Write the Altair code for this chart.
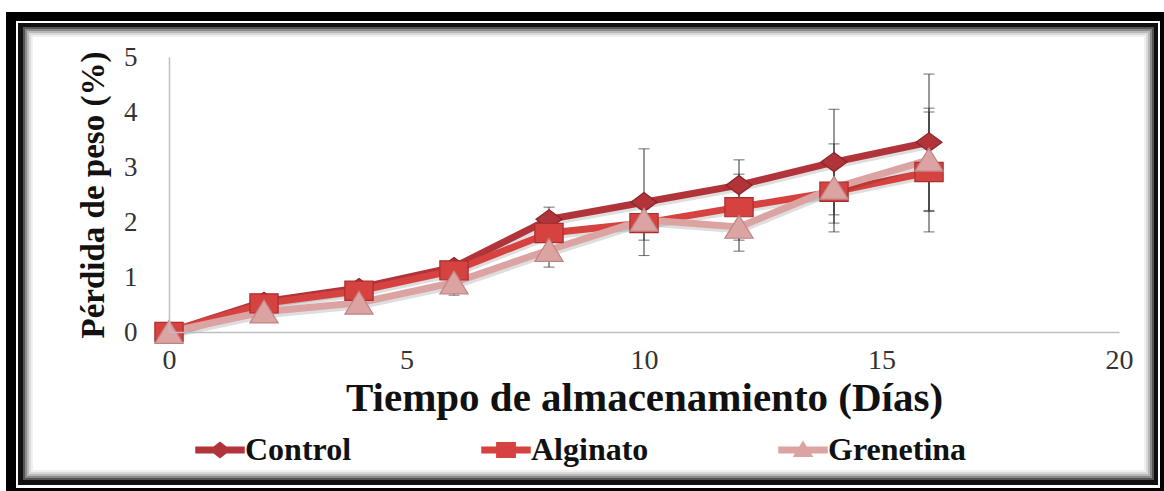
import altair as alt
import pandas as pd

# Días de almacenamiento y pérdida de peso (%) por tratamiento
dias = [0, 2, 4, 6, 8, 10, 12, 14, 16]
series = ["Control", "Alginato", "Grenetina"]
control = [0.0, 0.55, 0.80, 1.18, 2.05, 2.36, 2.67, 3.09, 3.45]
alginato = [0.0, 0.52, 0.75, 1.12, 1.80, 1.98, 2.27, 2.55, 2.91]
grenetina = [0.0, 0.37, 0.53, 0.90, 1.49, 2.04, 1.91, 2.62, 3.13]
# desviación estándar
control_de = [0.0, 0.05, 0.05, 0.08, 0.22, 0.97, 0.46, 0.96, 1.24]
alginato_de = [0.0, 0.05, 0.05, 0.06, 0.10, 0.31, 0.60, 0.57, 1.09]
grenetina_de = [0.0, 0.05, 0.05, 0.23, 0.31, 0.20, 0.44, 0.80, 0.94]
x_ticks = [0, 5, 10, 15, 20]
y_ticks = [0, 1, 2, 3, 4, 5]

colores = ["#B0343A", "#D5423F", "#DCA3A3"]
bordes = ["#8A2328", "#A92F2F", "#BF8585"]

rows = []
for name, vals, errs in zip(series, [control, alginato, grenetina],
                            [control_de, alginato_de, grenetina_de]):
    for d, v, e in zip(dias, vals, errs):
        rows.append({"Serie": name, "Dias": d, "Perdida": v, "DE": e})
df = pd.DataFrame(rows)

W, H = 950, 275
OX, OY = 169, 57  # origen del área de trazado dentro de la figura

FONT = "Liberation Serif"

x_scale = alt.Scale(domain=[0, 20], nice=False, zero=False)
y_scale = alt.Scale(domain=[0, 5], nice=False)
x_axis = alt.Axis(
    values=x_ticks, title="Tiempo de almacenamiento (Días)", grid=False,
    ticks=False, labelPadding=14, labelFontSize=28, labelFont=FONT,
    labelColor="#333333", titleFont=FONT, titleFontSize=41,
    titleFontWeight="bold", titleColor="#111111", titlePadding=4,
    domainColor="#BFBFBF", domainWidth=1.5, labelFlush=False, zindex=1,
)
y_axis = alt.Axis(
    values=y_ticks, title="Pérdida de peso (%)", grid=False, ticks=False,
    labelPadding=32, labelFontSize=27, labelFont=FONT,
    labelColor="#333333", titleFont=FONT, titleFontSize=33,
    titleFontWeight="bold", titleColor="#111111", titlePadding=13,
    domainColor="#BFBFBF", domainWidth=1.5, labelFlush=False, zindex=1,
)


def xq(campo):
    return alt.X(campo, scale=x_scale, axis=x_axis)


def yq(campo):
    return alt.Y(campo, scale=y_scale, axis=y_axis)


# Marco decorativo de la figura (coordenadas en píxeles de la figura)
marco = [
    (6, 12, 1164, 491, "#000000"),
    (16, 21, 1160, 488, "#ffffff"),
    (18, 23, 1158, 485, "#111111"),
    (23, 27, 1154, 480, "#555555"),
    (25, 29, 1152, 478, "#8a8a8a"),
    (27, 31, 1150, 476, "#b8b8b8"),
    (29, 33, 1148, 474, "#dadada"),
    (31, 35, 1146, 472, "#f0f0f0"),
    (33, 37, 1144, 470, "#ffffff"),
]
capas = []
for x1, y1, x2, y2, c in marco:
    capas.append(
        alt.Chart(alt.Data(values=[{}])).mark_rect(color=c).encode(
            x=alt.value(x1 - OX), x2=alt.value(x2 - OX),
            y=alt.value(y1 - OY), y2=alt.value(y2 - OY),
        )
    )

# Barras de error (media ± DE)
err = alt.Chart(df).transform_calculate(
    lo="datum.Perdida - datum.DE", hi="datum.Perdida + datum.DE"
)
barras = err.mark_rule(color="#333333", strokeWidth=1).encode(
    x=xq("Dias:Q"), y=yq("lo:Q"), y2="hi:Q"
)
tope_sup = err.mark_tick(orient="horizontal", size=11, thickness=1,
                         color="#333333").encode(x=xq("Dias:Q"), y=yq("hi:Q"))
tope_inf = err.mark_tick(orient="horizontal", size=11, thickness=1,
                         color="#333333").encode(x=xq("Dias:Q"), y=yq("lo:Q"))

# Formas de los marcadores (trazo SVG en el cuadro [-1, 1])
formas = [
    "M0,-0.68 L0.92,0 L0,0.68 L-0.92,0 Z",
    "M-1,-0.68 L1,-0.68 L1,0.68 L-1,0.68 Z",
    "M0,-0.82 L1,0.8 L-1,0.8 Z",
]

lineas = []
marcadores = []
for name, forma, c, b in zip(series, formas, colores, bordes):
    serie = alt.Chart(df).transform_filter(alt.datum.Serie == name)
    lineas.append(
        serie.mark_line(strokeWidth=7, color="#000000", opacity=0.13,
                        xOffset=1, yOffset=3)
        .encode(x=xq("Dias:Q"), y=yq("Perdida:Q"))
    )
    lineas.append(
        serie.mark_line(strokeWidth=7, color=c)
        .encode(x=xq("Dias:Q"), y=yq("Perdida:Q"))
    )
    marcadores.append(
        serie.mark_point(filled=True, opacity=1, shape=forma, size=800,
                         fill=c, stroke=b, strokeWidth=1.2)
        .encode(x=xq("Dias:Q"), y=yq("Perdida:Q"))
    )

# Símbolos de la leyenda: segmento de línea con su marcador
formas_leyenda = [
    "M-1,-0.14 L1,-0.14 L1,0.14 L-1,0.14 Z M0,-0.34 L0.44,0 L0,0.34 L-0.44,0 Z",
    "M-1,-0.14 L1,-0.14 L1,0.14 L-1,0.14 Z M-0.4,-0.32 L0.4,-0.32 L0.4,0.32 L-0.4,0.32 Z",
    "M-1,-0.14 L1,-0.14 L1,0.14 L-1,0.14 Z M0,-0.38 L0.42,0.28 L-0.42,0.28 Z",
]
leyenda_cfg = dict(
    title=None, orient="none", legendX=26, legendY=368, direction="horizontal",
    columns=3, columnPadding=129, labelFont=FONT, labelFontSize=32,
    labelFontWeight="bold", labelColor="#111111", labelOffset=0,
    symbolSize=2450, symbolStrokeWidth=0, symbolOpacity=1, labelLimit=400,
    zindex=1,
)
leyenda = alt.Chart(df).mark_point(filled=True, opacity=0).encode(
    x=xq("Dias:Q"), y=yq("Perdida:Q"),
    color=alt.Color("Serie:N", scale=alt.Scale(domain=series, range=colores),
                    legend=alt.Legend(**leyenda_cfg)),
    shape=alt.Shape("Serie:N", scale=alt.Scale(domain=series, range=formas_leyenda),
                    legend=alt.Legend(**leyenda_cfg)),
)

chart = alt.layer(
    *capas, barras, tope_sup, tope_inf, *lineas, *marcadores, leyenda
).properties(
    width=W, height=H,
    autosize=alt.AutoSizeParams(type="none"),
    padding={"left": OX, "top": OY, "right": 1164 - OX - W, "bottom": 491 - OY - H},
    background="#ffffff",
).configure_view(stroke=None)

chart.save("out.html", embed_options={"renderer": "svg", "actions": False})
